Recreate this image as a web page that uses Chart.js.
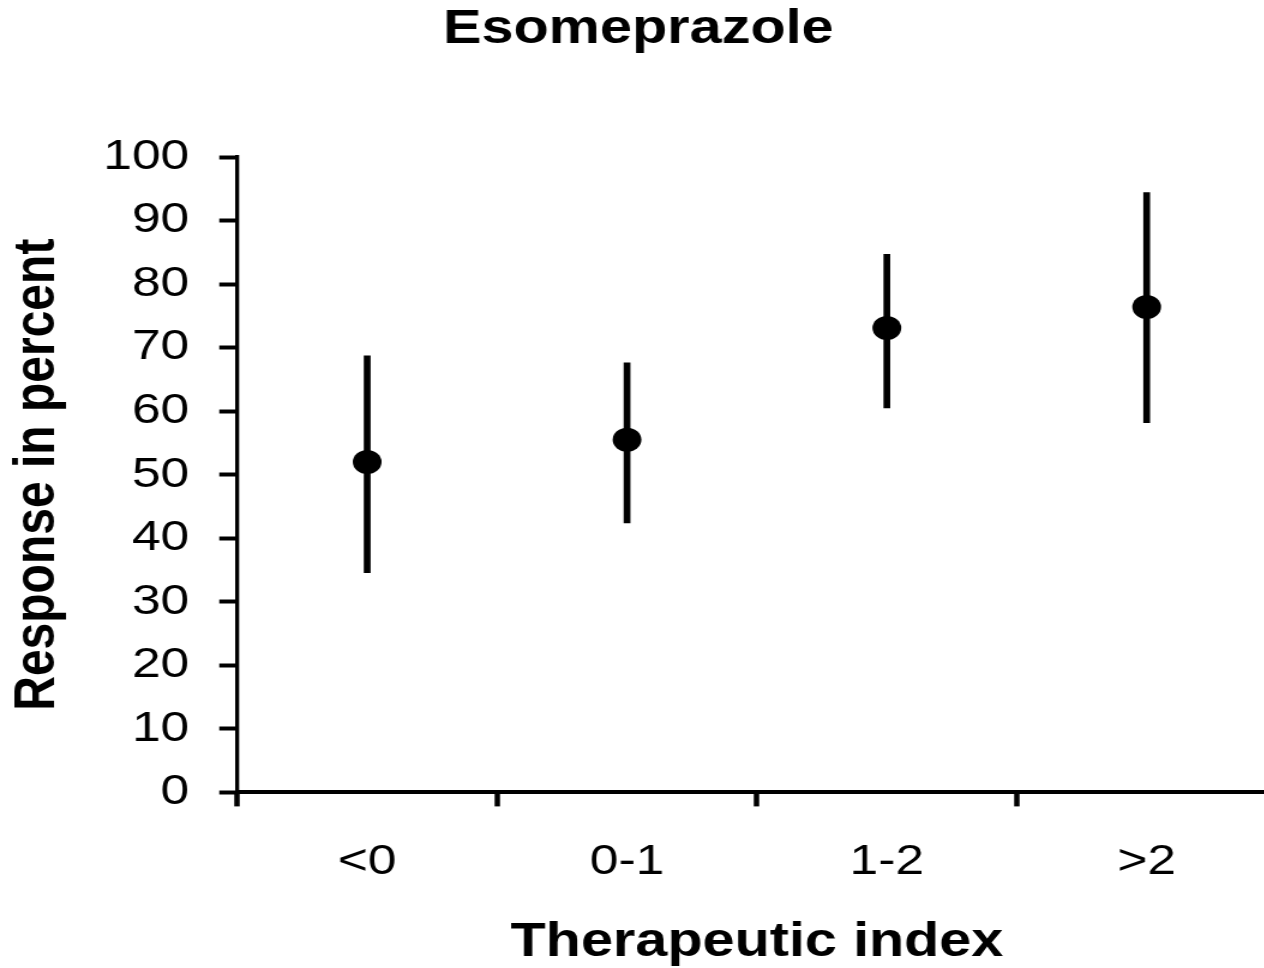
<!DOCTYPE html>
<html>
<head>
<meta charset="utf-8">
<script src="https://cdn.jsdelivr.net/npm/chart.js@4/dist/chart.umd.min.js"></script>
<style>
  html, body { margin: 0; padding: 0; background: #fff; overflow: hidden; }
  #wrap { width: 1264px; height: 968px; overflow: hidden; position: relative; }
  #c { display: block; }
</style>
</head>
<body>
<div id="wrap"><canvas id="c" width="1076" height="968" style="width:1291px;height:968px"></canvas></div>
<script>
const categories = ['<0', '0-1', '1-2', '>2'];
const meanValues = [52.0, 55.5, 73.1, 76.4];
const lowerValues = [34.6, 42.4, 60.5, 58.2];
const upperValues = [68.7, 67.6, 84.7, 94.4];
const yTickMin = 0;
const yTickMax = 100;
const yTickStep = 10;

const FAMILY = "'Liberation Sans', Arial, Helvetica, sans-serif";
const errorRanges = lowerValues.map((lo, i) => [lo, upperValues[i]]);

new Chart(document.getElementById('c'), {
  type: 'bar',
  data: {
    labels: categories,
    datasets: [
      {
        type: 'line',
        label: 'Response',
        data: meanValues,
        showLine: false,
        pointRadius: 12,
        pointHoverRadius: 12,
        pointBackgroundColor: '#000',
        pointBorderColor: '#000',
        pointBorderWidth: 0,
        order: 1
      },
      {
        type: 'bar',
        label: 'Range',
        data: errorRanges,
        backgroundColor: '#000',
        borderWidth: 0,
        barThickness: 5,
        order: 2
      }
    ]
  },
  options: {
    responsive: false,
    animation: false,
    devicePixelRatio: 1,
    layout: { padding: { left: -12, right: 0, top: 0, bottom: 0 } },
    plugins: {
      legend: { display: false },
      tooltip: { enabled: false },
      title: {
        display: true,
        text: 'Esomeprazole',
        color: '#000',
        font: { family: FAMILY, size: 48, weight: 'bold', lineHeight: 1 },
        padding: { top: 6, bottom: 103 }
      }
    },
    scales: {
      x: {
        type: 'category',
        offset: true,
        grid: { offset: true, drawOnChartArea: false, drawTicks: true, tickLength: 14, tickWidth: 4.5, tickColor: '#000' },
        border: { display: true, color: '#000', width: 4 },
        ticks: { color: '#000', font: { family: FAMILY, size: 43, lineHeight: 1.2 }, padding: 30, maxRotation: 0, autoSkip: false },
        title: {
          display: true,
          text: 'Therapeutic index',
          color: '#000',
          font: { family: FAMILY, size: 48, weight: 'bold', lineHeight: 1 },
          padding: { top: 1, bottom: 1 }
        }
      },
      y: {
        min: yTickMin,
        max: yTickMax,
        grid: { drawOnChartArea: false, drawTicks: true, tickLength: 15, tickWidth: 4, tickColor: '#000' },
        border: { display: true, color: '#000', width: 3.3 },
        ticks: { stepSize: yTickStep, color: '#000', font: { family: FAMILY, size: 43, lineHeight: 1.2 }, padding: 25 },
        title: {
          display: true,
          text: 'Response in percent',
          color: '#000',
          font: { family: FAMILY, size: 48, weight: 'bold', lineHeight: 1 },
          padding: { top: 20, bottom: 5 }
        }
      }
    }
  }
});
</script>
</body>
</html>
